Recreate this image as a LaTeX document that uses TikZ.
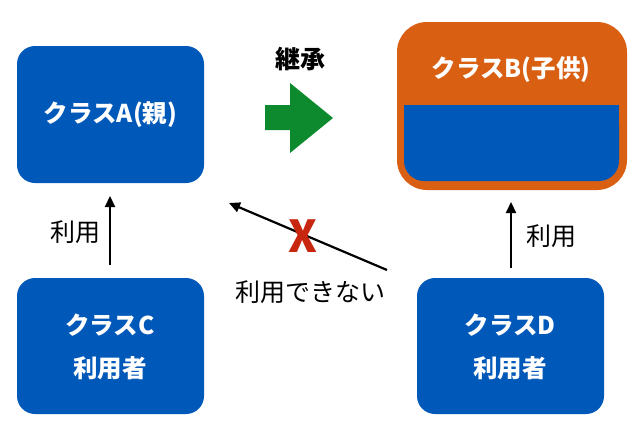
\documentclass[tikz,border=0pt]{standalone}
\usepackage{fontspec}
\setmainfont{Noto Sans CJK JP}
\usetikzlibrary{arrows.meta}
\definecolor{cblue}{HTML}{0058B8}
\definecolor{corange}{HTML}{D95F12}
\definecolor{cgreen}{HTML}{0E8A2E}
\definecolor{cred}{HTML}{C8260F}
\tikzset{
  classbox/.style={fill=cblue, rounded corners=18pt},
  wtext/.style={text=white, font=\fontsize{24.5}{28}\selectfont\bfseries},
  ltext/.style={text=black, font=\fontsize{25}{28}\selectfont},
  usearrow/.style={line width=2.2pt, -{Triangle[length=11pt,width=10pt]}},
}
\begin{document}
\begin{tikzpicture}[x=1pt,y=-1pt]
\useasboundingbox[fill=white] (0,0) rectangle (640,434);
% class A
\node[classbox, minimum width=187pt, minimum height=137pt, anchor=center] (A) at (110.5,114.5) {};
\node[wtext] (At) at (A.center) {クラスA(親)};
% inheritance arrow
\node[font=\fontsize{25}{28}\selectfont\bfseries] (inh) at (300,59) {継承};
\fill[cgreen] (265,105) -- (290,105) -- (290,83) -- (333,118) -- (290,153) -- (290,130) -- (265,130) -- cycle;
% class B
\node[fill=corange, rounded corners=30pt, minimum width=230pt, minimum height=168pt] (B) at (512,106) {};
\fill[cblue, rounded corners=20pt] (404,105) -- (619,105) -- (619,181) -- (404,181) -- cycle;
\fill[cblue] (404,105) rectangle (619,130);
\node[wtext] (Bt) at (511,70) {クラスB(子供)};
% class C
\node[classbox, minimum width=187pt, minimum height=136pt] (C) at (110.5,346) {};
\node[wtext] (Ct1) at (110,325) {クラスC};
\node[wtext] (Ct2) at (110,368) {利用者};
% class D
\node[classbox, minimum width=187pt, minimum height=136pt] (D) at (510.5,346) {};
\node[wtext] (Dt1) at (510,325) {クラスD};
\node[wtext] (Dt2) at (510,368) {利用者};
% arrows
\coordinate (c1) at (110,265);
\coordinate (c2) at (110,196);
\draw[usearrow] (c1) -- (c2);
\node[ltext] (l1) at (75,232) {利用};
\coordinate (d1) at (511,268);
\coordinate (d2) at (511,202);
\draw[usearrow] (d1) -- (d2);
\node[ltext] (l2) at (551,236) {利用};
\coordinate (e1) at (387,270);
\coordinate (e2) at (229,203);
\draw[usearrow] (e1) -- (e2);
\node[text=cred, font=\fontsize{44}{46}\selectfont\bfseries] (X) at (303,236) {X};
\node[ltext] (l3) at (310,292) {利用できない};
\end{tikzpicture}
\end{document}
